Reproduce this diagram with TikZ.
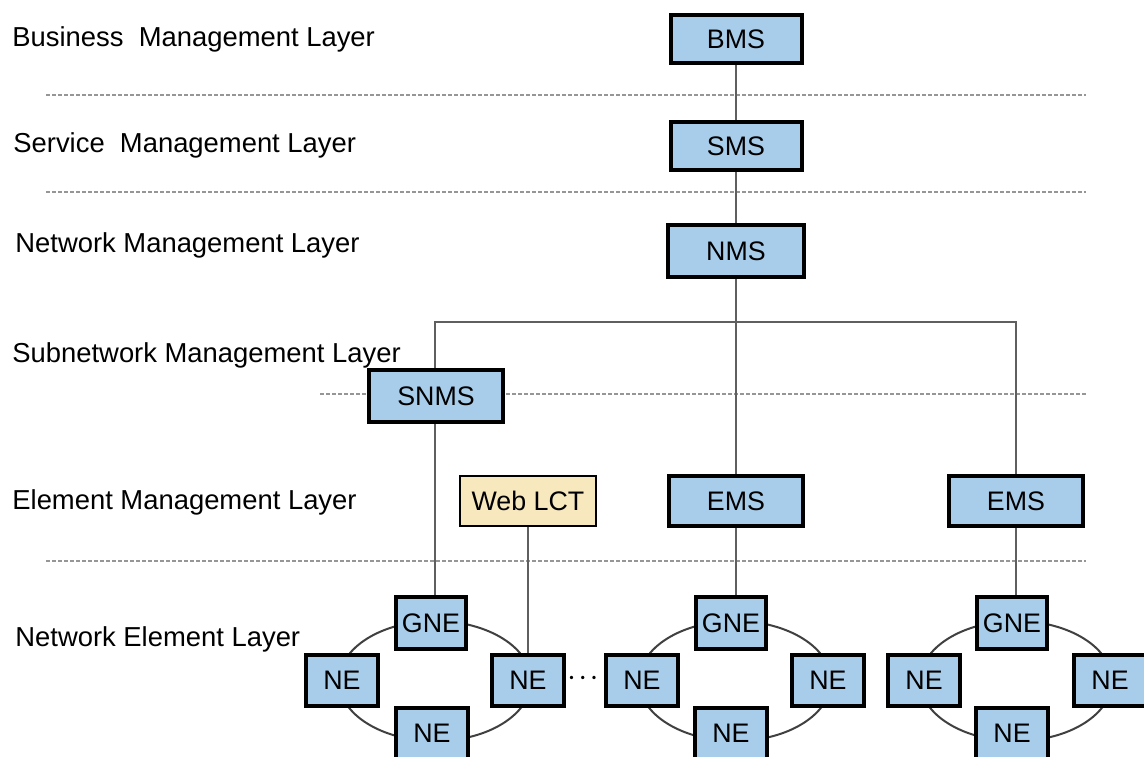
\documentclass[tikz,border=0pt]{standalone}
\usepackage{amsmath}
\usepackage{fontspec}
\setmainfont{Liberation Sans}
\usetikzlibrary{positioning}
\definecolor{azulcaja}{RGB}{168,205,235}
\definecolor{amarillocaja}{RGB}{247,232,190}
\definecolor{grislinea}{RGB}{95,95,95}
\definecolor{grisdiv}{RGB}{150,150,150}
\tikzset{
  caja/.style={draw=black, line width=2pt, fill=azulcaja, inner sep=0pt,
    font=\fontsize{13.4}{15}\selectfont, minimum width=67pt, minimum height=25pt},
  cajane/.style={caja, minimum width=36pt, minimum height=25.5pt},
  capa/.style={anchor=base west, inner sep=0pt, font=\fontsize{13.7}{16}\selectfont},
  divisor/.style={draw=grisdiv, line width=1pt, dash pattern=on 2pt off 1pt},
  enlace/.style={draw=grislinea, line width=1.3pt},
  anillo/.style={draw=black!75, line width=1pt}
}
\begin{document}
\begin{tikzpicture}[x=0.5pt,y=-0.5pt]
    \useasboundingbox (0,0) rectangle (1144,756); %Delimitador de imagen
    \draw[divisor] (46,95) -- (1086,95); %division 1
    \draw[divisor] (46,192) -- (1086,192); %division 2
    \draw[divisor] (320,394) -- (1086,394); %division 3
    \draw[divisor] (46,561) -- (1086,561); %division 4
    \node[capa] (lbms) at (12,46) {Business\ \ Management Layer}; %capa de negocio
    \node[capa] (lsms) at (13,152) {Service\ \ Management Layer}; %capa de servicio
    \node[capa] (lnms) at (15,252) {Network Management Layer}; %capa de red
    \node[capa] (lsnms) at (12,362) {Subnetwork Management Layer}; %capa de subred
    \node[capa] (lems) at (12,509) {Element Management Layer}; %capa de elementos
    \node[capa] (lne) at (15,646) {Network Element Layer}; %capa de elementos de red
    \draw[anillo] (435,681) ellipse [x radius=96, y radius=60]; %anillo 1
    \draw[anillo] (735,681) ellipse [x radius=96, y radius=60]; %anillo 2
    \draw[anillo] (1016,681) ellipse [x radius=96, y radius=60]; %anillo 3
    \node[caja, minimum width=65.5pt, minimum height=24pt] (bms) at (736,39) {BMS};
    \node[caja, minimum width=65.5pt, minimum height=24pt] (sms) at (736,146) {SMS};
    \node[caja, minimum width=68pt, minimum height=26pt] (nms) at (736,251) {NMS};
    \node[caja, minimum height=26pt] (snms) at (436,396) {SNMS};
    \node[caja, fill=amarillocaja, line width=1.4pt, minimum width=68pt, minimum height=25pt] (lct) at (528,501) {Web LCT};
    \node[caja] (ems1) at (736,501) {EMS};
    \node[caja] (ems2) at (1016,501) {EMS};
    \node[cajane, minimum width=35pt, minimum height=26pt] (gne1) at (431,623) {GNE}; %anillo 1
    \node[cajane] (ne1l) at (342,680) {NE};
    \node[cajane] (ne1r) at (528,680) {NE};
    \node[cajane] (ne1b) at (432,733) {NE};
    \node[cajane, minimum width=35pt, minimum height=26pt] (gne2) at (731,623) {GNE}; %anillo 2
    \node[cajane] (ne2l) at (642,680) {NE};
    \node[cajane] (ne2r) at (828,680) {NE};
    \node[cajane] (ne2b) at (731,733) {NE};
    \node[cajane, minimum width=35pt, minimum height=26pt] (gne3) at (1012,623) {GNE}; %anillo 3
    \node[cajane] (ne3l) at (924,680) {NE};
    \node[cajane] (ne3r) at (1110,680) {NE};
    \node[cajane] (ne3b) at (1012,733) {NE};
    \node[inner sep=0pt, font=\fontsize{11}{13}\selectfont] (puntos) at (585,678) {$\boldsymbol{\cdots}$}; %puntos suspensivos
    \coordinate (barl) at (435,322); %barra izquierda
    \coordinate (barc) at (736,322); %barra centro
    \coordinate (barr) at (1016,322); %barra derecha
    \draw[enlace] (bms) -- (sms);
    \draw[enlace] (sms) -- (nms);
    \draw[enlace] (nms) -- (barc);
    \draw[enlace] (snms.north -| barl) -- (barl) -- (barr) -- (ems2.north);
    \draw[enlace] (barc) -- (ems1.north);
    \draw[enlace] (snms.south -| barl) -- (gne1.north -| barl);
    \draw[enlace] (lct.south) -- (ne1r.north);
    \draw[enlace] (ems1.south) -- (gne2.north -| ems1.south);
    \draw[enlace] (ems2.south) -- (gne3.north -| ems2.south);
\end{tikzpicture}
\end{document}
